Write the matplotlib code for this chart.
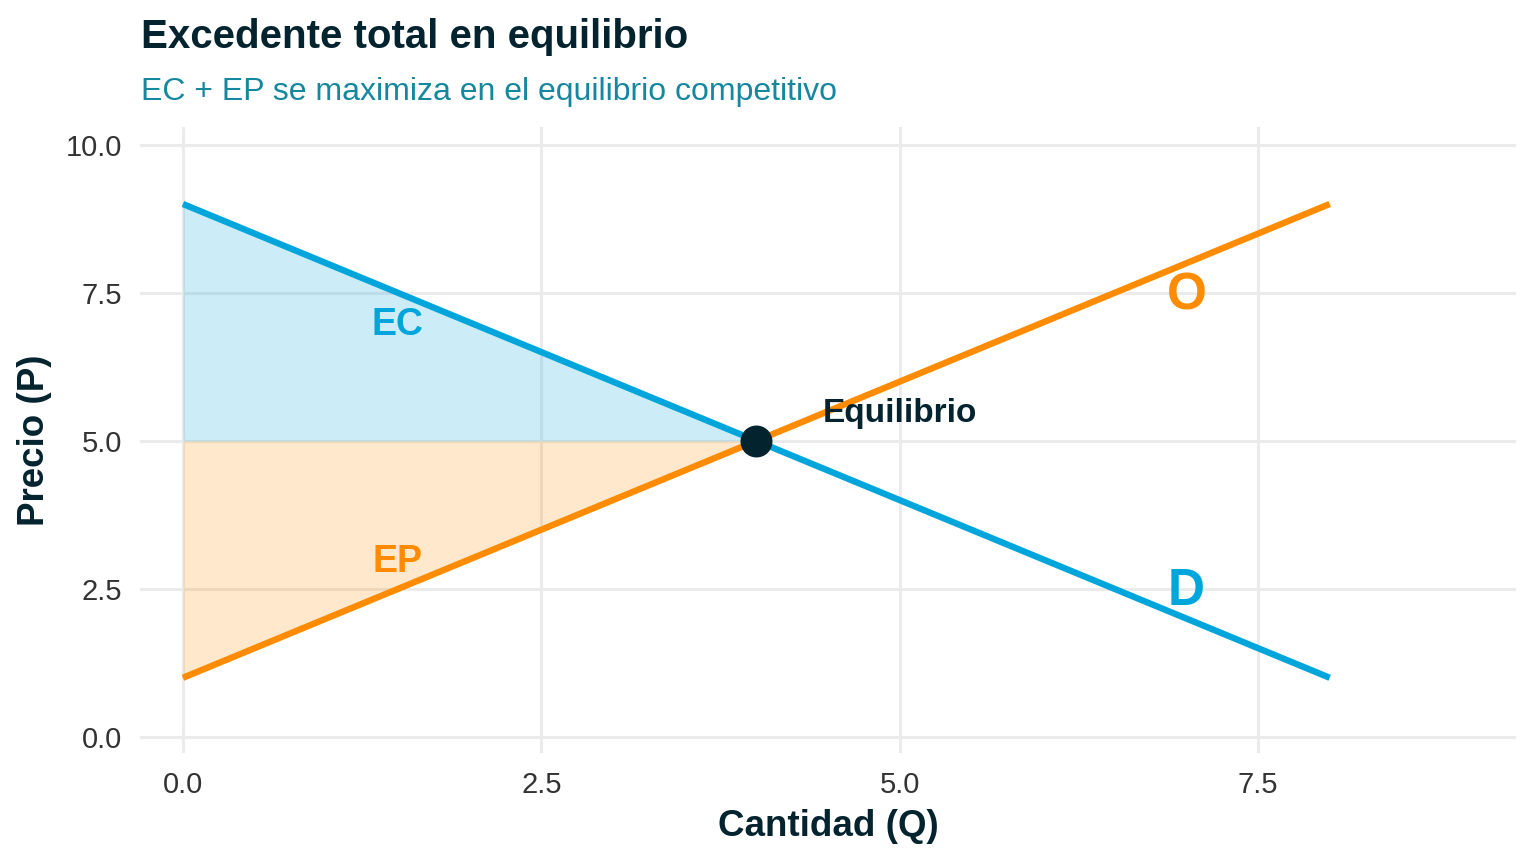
import matplotlib
matplotlib.use("Agg")
import matplotlib.pyplot as plt
import numpy as np

plt.rcParams['font.family'] = ['Liberation Sans', 'DejaVu Sans']

# Data
q = [0, 1, 2, 3, 4, 5, 6, 7, 8]
demanda = [9, 8, 7, 6, 5, 4, 3, 2, 1]
oferta = [1, 2, 3, 4, 5, 6, 7, 8, 9]
q_eq, p_eq = 4, 5
q_area = [0, 1, 2, 3, 4]
dem_area = [9, 8, 7, 6, 5]
sup_area = [1, 2, 3, 4, 5]
x_ticks = [0.0, 2.5, 5.0, 7.5]
y_ticks = [0.0, 2.5, 5.0, 7.5, 10.0]

BLUE = "#00A6DB"
ORANGE = "#FF8C00"
DARK = "#03232E"
GRID = "#EBEBEB"

fig = plt.figure(figsize=(15.36, 8.64), dpi=100)
ax = fig.add_axes([0.0911, 0.1285, 0.8959, 0.7245])

ax.set_xlim(-0.30, 9.30)
ax.set_ylim(-0.27, 10.30)

ax.set_xticks(x_ticks)
ax.set_yticks(y_ticks)
ax.set_xticklabels([f"{v:.1f}" for v in x_ticks])
ax.set_yticklabels([f"{v:.1f}" for v in y_ticks])
ax.grid(True, color=GRID, linewidth=2.2, zorder=0)
ax.set_axisbelow(True)
for s in ax.spines.values():
    s.set_visible(False)
ax.tick_params(length=0, labelsize=21, labelcolor="#333333")
ax.tick_params(axis='x', pad=13)
ax.tick_params(axis='y', pad=13)

# Areas
ax.fill_between(q_area, dem_area, p_eq, color=BLUE, alpha=0.2, linewidth=0, zorder=2)
ax.fill_between(q_area, sup_area, p_eq, color=ORANGE, alpha=0.2, linewidth=0, zorder=2)

# Curves
ax.plot(q, demanda, color=BLUE, linewidth=4.6, solid_capstyle='butt', zorder=3)
ax.plot(q, oferta, color=ORANGE, linewidth=4.6, solid_capstyle='butt', zorder=3)
ax.plot([q_eq], [p_eq], 'o', color=DARK, markersize=22, zorder=5)

# Labels
ax.text(1.5, 6.95, "EC", color=BLUE, fontsize=27, fontweight='bold', ha='center', va='center', zorder=4)
ax.text(1.5, 2.95, "EP", color=ORANGE, fontsize=27, fontweight='bold', ha='center', va='center', zorder=4)
ax.text(5.0, 5.47, "Equilibrio", color=DARK, fontsize=24, fontweight='bold', ha='center', va='center', zorder=4)
ax.text(7.0, 7.45, "O", color=ORANGE, fontsize=37, fontweight='bold', ha='center', va='center', zorder=4)
ax.text(7.0, 2.45, "D", color=BLUE, fontsize=37, fontweight='bold', ha='center', va='center', zorder=4)

ax.set_xlabel("Cantidad (Q)", fontsize=26.5, fontweight='bold', color=DARK, labelpad=7)
ax.set_ylabel("Precio (P)", fontsize=26.5, fontweight='bold', color=DARK, labelpad=10)

fig.text(0.0918, 0.957, "Excedente total en equilibrio", fontsize=29, fontweight='bold',
         color=DARK, ha='left', va='center')
fig.text(0.0918, 0.894, "EC + EP se maximiza en el equilibrio competitivo", fontsize=23,
         color="#15879F", ha='left', va='center')

fig.savefig("out.png", dpi=100)
